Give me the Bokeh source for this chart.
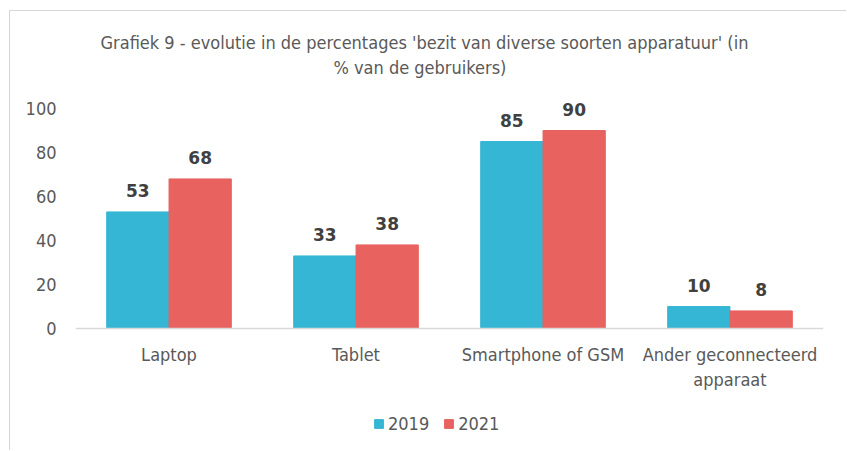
from bokeh.plotting import figure
from bokeh.models import ColumnDataSource, FactorRange, LabelSet, Legend, LegendItem, Title, Range1d
from bokeh.core.properties import value
from bokeh.transform import dodge
from bokeh.embed import file_html
from bokeh.resources import INLINE

categories = ["Laptop", "Tablet", "Smartphone of GSM", "Ander geconnecteerd\napparaat"]
v2019 = [53, 33, 85, 10]
v2021 = [68, 38, 90, 8]
years = ["2019", "2021"]
yticks = [0, 20, 40, 60, 80, 100]
title_lines = ["Grafiek 9 - evolutie in de percentages 'bezit van diverse soorten apparatuur' (in",
               "% van de gebruikers)"]

FONT = "DejaVu Sans Condensed"
C19 = "#35B6D4"
C21 = "#E8625F"
TXT = "#595959"

src = ColumnDataSource(dict(cat=categories, v19=v2019, v21=v2021,
                            t19=[str(v) for v in v2019], t21=[str(v) for v in v2021]))

# y range extends beyond 0..100 so that value labels, category labels and legend sit inside the frame
p = figure(x_range=FactorRange(*categories, range_padding=0), y_range=Range1d(-55.9, 113.2),
           width=837, height=440, output_backend="svg", toolbar_location=None,
           min_border_left=65, min_border_right=24, min_border_top=68, min_border_bottom=0)
p.outline_line_color = None
p.grid.grid_line_color = None
p.margin = (10, 0, 0, 9)
p.styles = {"border-left": "1px solid #d6d6d6", "border-top": "1px solid #d6d6d6"}

r1 = p.vbar(x=dodge("cat", -0.1667, range=p.x_range), top="v19", width=0.333, source=src,
            color=C19, line_color=C19)
r2 = p.vbar(x=dodge("cat", 0.1667, range=p.x_range), top="v21", width=0.333, source=src,
            color=C21, line_color=C21)

for col, txt, off in [("v19", "t19", -0.1667), ("v21", "t21", 0.1667)]:
    ls = LabelSet(x=dodge("cat", off, range=p.x_range), y=col, text=txt, source=src,
                  text_align="center", text_baseline="alphabetic", y_offset=15,
                  text_font=value("DejaVu Sans"), text_font_size=value("17px"),
                  text_font_style="bold", text_color="#404040")
    p.add_layout(ls)

p.yaxis.ticker = yticks
p.yaxis.axis_line_color = None
p.yaxis.major_tick_line_color = None
p.yaxis.minor_tick_line_color = None
p.yaxis.major_label_text_font = FONT
p.yaxis.major_label_text_font_size = "18px"
p.yaxis.major_label_text_color = TXT
p.yaxis.major_label_standoff = 13

p.xaxis.fixed_location = 0
p.xaxis.axis_line_color = "#d9d9d9"
p.xaxis.axis_line_width = 1.5
p.xaxis.major_tick_line_color = None
p.xaxis.minor_tick_line_color = None
p.xaxis.major_label_text_font = FONT
p.xaxis.major_label_text_font_size = "18px"
p.xaxis.major_label_text_color = TXT
p.xaxis.major_label_standoff = 9

t2 = Title(text=title_lines[1], align="left", offset=258, standoff=4,
           text_font=FONT, text_font_size="18px", text_font_style="normal", text_color=TXT)
t1 = Title(text=title_lines[0], align="left", offset=25, standoff=0,
           text_font=FONT, text_font_size="18px", text_font_style="normal", text_color=TXT)
p.add_layout(t2, "above")
p.add_layout(t1, "above")

legend = Legend(items=[LegendItem(label=years[0], renderers=[r1]),
                       LegendItem(label=years[1], renderers=[r2])],
                orientation="horizontal", location=(298, 17),
                label_text_font=FONT, label_text_font_size="18px", label_text_color=TXT,
                glyph_width=11, glyph_height=11, label_standoff=4, spacing=14,
                padding=0, margin=0, border_line_color=None, background_fill_alpha=0)
p.add_layout(legend)

open("out.html", "w").write(file_html(p, INLINE))
